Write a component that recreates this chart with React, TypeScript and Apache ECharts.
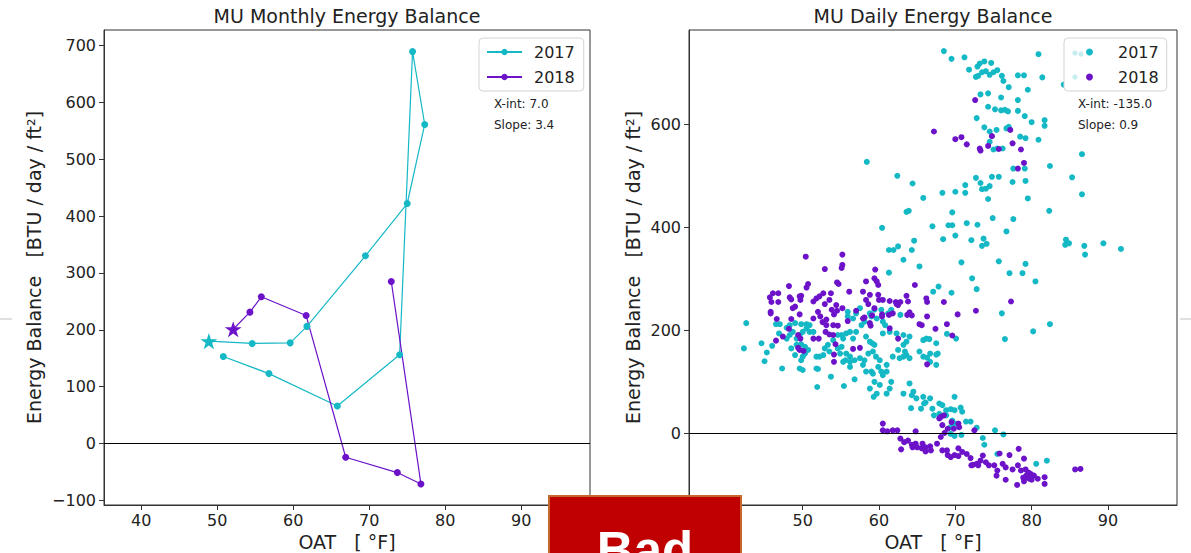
import { useEffect, useRef } from 'react';
import * as echarts from 'echarts';

const CYAN = '#15b8c5';
const PURPLE = '#6c13c9';
const FONT = '"DejaVu Sans", sans-serif';

const xTicks = [40, 50, 60, 70, 80, 90];
const monthlyYTicks = [-100, 0, 100, 200, 300, 400, 500, 600, 700];
const dailyYTicks = [0, 200, 400, 600];

const monthlyOAT2017 = [48.9, 54.6, 59.6, 61.8, 69.5, 75.0, 77.3, 75.7, 74.0, 65.8, 56.8, 50.8];
const monthlyBal2017 = [180, 176, 177, 206, 330, 422, 561, 689, 156, 66, 123, 153];
const monthlyOAT2018 = [52.1, 54.3, 55.8, 61.7, 66.9, 73.7, 76.8, 72.9];
const monthlyBal2018 = [201, 231, 258, 225, -24, -51, -71, 285];

const daily2017 = [
  [68.5, 742], [69.5, 727], [71.2, 730], [80.9, 736], [71.8, 706], [72.9, 712], [73.2, 718], [73.8, 722], [74.7, 719],
  [72.7, 692], [73.0, 694], [73.5, 701], [74.0, 703], [74.5, 696], [75.0, 701], [75.5, 705], [76.1, 694], [76.3, 684],
  [77.0, 672], [78.2, 695], [79.0, 695], [79.5, 667], [81.4, 691], [84.2, 677], [73.3, 658], [74.3, 660], [76.0, 652],
  [78.2, 647], [74.3, 634], [75.2, 629], [76.0, 627], [76.5, 628], [76.9, 625], [78.2, 626], [79.1, 616], [80.0, 604],
  [81.7, 608], [81.7, 597], [72.8, 612], [73.8, 594], [74.5, 586], [75.4, 589], [76.7, 592], [77.0, 595], [78.5, 576],
  [79.2, 573], [80.9, 570], [74.5, 566], [75.0, 551], [75.5, 553], [76.2, 553], [77.6, 514], [79.1, 514], [82.4, 519],
  [86.6, 542], [85.3, 497], [86.6, 464], [58.4, 527], [62.4, 500], [64.4, 485], [65.8, 457], [68.3, 467], [70.0, 469],
  [71.3, 467], [71.3, 482], [72.7, 496], [73.3, 486], [73.5, 474], [74.0, 475], [74.5, 480], [74.8, 498], [75.7, 498],
  [74.3, 455], [77.5, 488], [79.2, 490], [79.5, 456], [82.3, 432], [69.6, 429], [74.9, 418], [77.6, 416], [63.9, 432],
  [63.6, 430], [71.5, 408],
  [69.1, 404], [69.6, 404], [72.9, 405], [76.7, 392], [68.4, 377], [70.0, 384], [72.1, 375], [73.7, 378], [73.5, 364],
  [74.1, 368], [84.5, 376], [84.4, 366], [84.9, 369], [86.9, 364], [87.0, 347], [89.4, 369], [91.7, 358], [70.8, 332],
  [75.7, 334], [79.2, 329], [77.1, 311], [78.8, 311], [72.2, 301], [80.5, 295], [67.8, 285], [72.8, 280], [69.5, 273],
  [76.1, 233], [82.4, 212], [80.2, 198], [68.9, 193], [70.1, 184], [76.5, 183], [67.7, 155],
  [60.4, 399], [67.0, 402], [64.6, 374], [61.3, 356], [61.9, 356], [62.5, 363], [64.3, 356], [63.2, 337], [65.3, 324],
  [61.3, 312], [67.1, 275], [42.6, 214], [44.6, 175], [42.3, 165], [45.3, 157], [45.0, 140], [47.3, 126], [46.0, 170],
  [46.5, 212], [47.0, 212], [47.9, 205], [48.3, 210], [49.0, 214], [49.8, 212], [50.5, 212], [50.9, 210], [46.9, 194],
  [47.9, 184], [48.3, 191], [48.7, 197], [49.2, 184], [49.6, 191], [50.0, 197], [50.5, 204], [50.9, 197], [51.4, 197],
  [48.5, 165], [49.2, 172], [49.8, 173], [50.3, 168], [50.7, 162], [50.3, 155], [50.0, 149], [49.8, 142], [49.6, 126],
  [49.0, 152], [50.0, 123], [51.8, 126], [52.0, 125], [51.8, 149], [52.2, 149], [52.7, 152], [52.9, 165], [53.5, 159],
  [53.3, 172], [54.0, 181], [54.6, 191], [55.1, 191], [55.3, 184], [55.7, 194], [56.2, 197], [55.9, 236], [55.9, 227],
  [56.6, 184], [57.0, 197], [57.7, 210], [58.1, 217], [58.3, 188], [58.8, 178], [59.1, 175], [59.4, 172], [59.2, 159],
  [58.6, 155], [58.1, 142], [57.5, 146], [56.8, 142], [56.2, 149], [55.7, 155], [54.9, 155], [54.6, 165], [55.1, 168],
  [55.3, 139], [55.6, 142], [56.2, 139], [56.2, 129], [57.9, 133], [58.3, 120], [59.0, 120], [59.2, 116], [59.4, 100],
  [58.8, 87], [59.9, 129], [60.3, 120], [60.5, 113], [61.0, 120], [61.6, 100], [61.0, 133], [60.1, 142], [59.6, 149],
  [61.8, 149], [62.7, 146], [63.2, 149], [63.6, 152], [64.0, 146], [63.4, 159], [62.5, 162], [63.2, 172], [63.6, 178],
  [64.0, 188], [63.2, 191], [62.3, 194], [61.4, 197], [60.5, 194], [60.8, 210], [60.5, 217], [59.7, 223], [59.0, 227],
  [61.2, 233], [62.8, 230], [61.6, 240], [60.3, 240], [59.4, 240], [58.8, 233], [57.5, 243], [57.0, 233], [56.6, 223],
  [65.8, 181], [66.2, 184], [66.7, 155], [66.6, 183], [67.5, 153], [66.3, 147], [67.5, 175], [64.0, 97], [64.5, 81],
  [63.2, 77], [64.3, 74], [64.9, 68], [65.8, 71], [66.7, 68], [51.9, 90], [55.4, 92], [53.7, 110], [56.8, 105],
  [59.7, 77], [60.1, 94], [61.0, 77], [61.4, 87], [65.8, 149], [67.5, 133], [66.7, 139], [65.3, 159],
  [59.3, 71], [66.1, 60], [67.9, 58], [68.3, 55], [69.9, 71], [64.2, 49], [65.5, 48], [65.9, 58], [67.0, 48],
  [67.2, 35], [67.9, 38], [68.8, 45], [69.4, 47], [69.9, 45], [70.7, 50], [70.9, 42], [68.8, 35], [69.6, 25],
  [69.9, 19], [71.4, 23], [72.0, 23], [72.8, 11], [69.4, -1], [69.9, -5], [70.8, -3], [73.6, -9], [73.8, -22],
  [75.2, 6], [76.3, -2], [75.5, -40], [80.6, -59], [82.0, -53], [69.4, 12],
];

const daily2018 = [
  [72.6, 647], [67.2, 586], [70.0, 571], [70.8, 575], [71.5, 561], [73.2, 553], [73.3, 549], [74.3, 558], [74.8, 577],
  [75.7, 552], [77.2, 589], [77.5, 563], [78.6, 551], [78.2, 514], [79.0, 525],
  [68.5, 255], [77.3, 256], [70.3, 231], [72.7, 238], [68.9, 212], [69.6, 190],
  [50.4, 343], [55.2, 347], [55.2, 327], [55.1, 321], [52.9, 319], [48.2, 286], [50.7, 290], [50.5, 283], [54.5, 293],
  [54.7, 290], [56.1, 275], [57.9, 275], [58.3, 295], [59.5, 318], [59.4, 301], [59.7, 295], [59.9, 288], [58.8, 269],
  [59.9, 269], [60.0, 259], [60.5, 259], [61.4, 257], [62.2, 255], [62.5, 249], [62.8, 255], [63.6, 267], [63.8, 256],
  [64.7, 288], [66.2, 262], [66.3, 255], [64.0, 235], [64.3, 229], [63.7, 230], [61.8, 233], [60.4, 231], [59.4, 243],
  [58.6, 251], [58.1, 225], [59.1, 229], [55.9, 218], [55.2, 243], [54.5, 238], [54.1, 231], [53.5, 259], [53.7, 272],
  [52.9, 251], [52.7, 272], [52.2, 266], [51.8, 262], [51.4, 256], [52.0, 236], [51.4, 223], [52.3, 227], [52.6, 216],
  [53.1, 210], [54.0, 210], [54.6, 209], [54.4, 249], [53.8, 240], [48.3, 264], [48.5, 260], [49.6, 266], [49.7, 259],
  [49.8, 267], [48.7, 243], [49.0, 246], [49.6, 231], [46.8, 272], [46.1, 272], [45.7, 264], [45.9, 255], [46.8, 255],
  [45.8, 236], [45.8, 233], [48.2, 203], [47.4, 188], [46.5, 180], [49.4, 191], [49.7, 184], [49.4, 166], [49.6, 162],
  [50.1, 160], [51.4, 184], [52.1, 184], [53.0, 197], [53.5, 192], [54.0, 191], [54.3, 173], [54.1, 153], [54.1, 139],
  [57.5, 166], [56.6, 164], [57.9, 223], [61.4, 204], [62.5, 184], [65.3, 212], [65.6, 210], [67.4, 203], [66.3, 134],
  [66.3, 227], [62.3, 251], [61.3, 230], [60.4, 227], [58.3, 259], [58.8, 214], [58.9, 209], [57.0, 238], [53.1, 221],
  [48.5, 222], [46.6, 222],
  [60.5, 19], [60.5, 6], [61.1, 4], [61.8, 6], [62.4, 6], [64.8, 4], [67.9, 29], [68.1, 32], [68.5, 35], [69.5, 22],
  [70.4, 19], [68.3, 16], [69.0, 9], [68.1, -7], [68.6, 1], [62.8, -10], [63.3, -17], [63.8, -14], [64.3, -22],
  [64.8, -20], [65.0, -27], [65.6, -29], [66.1, -27], [66.7, -25], [67.6, -20], [62.9, -31], [68.3, -33], [69.0, -42],
  [69.4, -46], [69.9, -42], [70.4, -29], [70.9, -36], [71.5, -40], [72.0, -48], [72.3, -61], [72.8, -59], [73.3, -53],
  [73.6, -43], [74.0, -56], [74.4, -62], [75.4, -82], [76.2, -59], [76.6, -66], [77.1, -42], [77.5, -70], [78.2, -62],
  [78.3, -30], [78.6, -72], [79.0, -49], [79.3, -82], [79.7, -88], [79.9, -79], [80.3, -82], [79.0, -93], [78.1, -100],
  [81.7, -85], [81.7, -98], [85.7, -70], [86.4, -69], [76.6, -90], [75.5, -72], [75.1, -62], [73.0, -62], [72.1, -62],
  [70.4, -44], [68.9, -33], [66.8, -33], [66.1, -35], [64.4, -27], [65.7, -20], [79.4, -85], [80.0, -90], [79.6, -76],
  [78.9, -86], [80.8, -88], [79.2, -70], [72.5, 6], [70.5, 12], [69.8, 9], [75.8, -39],
];

const STAR = 'path://M50 0 L61.2 34.5 L97.6 34.5 L68.2 55.9 L79.4 90.5 L50 69.1 L20.6 90.5 L31.8 55.9 L2.4 34.5 L38.8 34.5 Z';

const fmt = (v: number) => (v < 0 ? '\u2212' + Math.abs(v) : String(v));

function makeX(gridIndex: number) {
  return {
    type: 'value',
    gridIndex,
    min: 35.1,
    max: 99.05,
    axisLine: { show: true, onZero: false, lineStyle: { color: '#333', width: 1 } },
    axisTick: { show: true, length: 5, customValues: xTicks, lineStyle: { color: '#333' } },
    axisLabel: { customValues: xTicks, fontSize: 16, color: '#222', fontFamily: FONT, margin: 7, formatter: fmt },
    splitLine: { show: false },
    name: 'OAT   [ \u00b0F]',
    nameLocation: 'middle',
    nameGap: 25,
    nameTextStyle: { fontSize: 19, color: '#222', fontFamily: FONT },
  };
}

function makeY(gridIndex: number, min: number, max: number, ticks: number[], gap: number) {
  return {
    type: 'value',
    gridIndex,
    min,
    max,
    axisLine: { show: true, onZero: false, lineStyle: { color: '#333', width: 1 } },
    axisTick: { show: true, length: 5, customValues: ticks, lineStyle: { color: '#333' } },
    axisLabel: { customValues: ticks, fontSize: 16, color: '#222', fontFamily: FONT, margin: 8, formatter: fmt },
    splitLine: { show: false },
    name: 'Energy Balance   [BTU / day / ft\u00b2]',
    nameLocation: 'middle',
    nameGap: gap,
    nameTextStyle: { fontSize: 19, color: '#222', fontFamily: FONT },
  };
}

const zeroLine = {
  silent: true,
  symbol: ['none', 'none'],
  label: { show: false },
  lineStyle: { color: '#000', width: 1.2, type: 'solid' },
  data: [{ yAxis: 0 }],
};

export default function App() {
  const ref = useRef<HTMLDivElement>(null);

  useEffect(() => {
    if (!ref.current) return;
    const chart = echarts.init(ref.current, undefined, { renderer: 'svg' });

    const line2017 = monthlyOAT2017.map((x, i) =>
      i === 0
        ? { value: [x, monthlyBal2017[i]], symbol: STAR, symbolSize: 17, symbolKeepAspect: true }
        : [x, monthlyBal2017[i]]
    );
    const line2018 = monthlyOAT2018.map((x, i) =>
      i === 0
        ? { value: [x, monthlyBal2018[i]], symbol: STAR, symbolSize: 17, symbolKeepAspect: true }
        : [x, monthlyBal2018[i]]
    );

    const textStyle = { fill: '#222', font: '12px "DejaVu Sans"', textVerticalAlign: 'middle' };

    chart.setOption({
      animation: false,
      backgroundColor: '#fff',
      title: [
        {
          text: 'MU Monthly Energy Balance', left: 347, top: 6, textAlign: 'center', padding: 0,
          textStyle: { fontSize: 19, fontWeight: 'normal', color: '#222', fontFamily: FONT },
        },
        {
          text: 'MU Daily Energy Balance', left: 933, top: 6, textAlign: 'center', padding: 0,
          textStyle: { fontSize: 19, fontWeight: 'normal', color: '#222', fontFamily: FONT },
        },
      ],
      grid: [
        {
          left: 104, top: 30, width: 486, height: 475, show: true, borderColor: '#333', borderWidth: 1,
          containLabel: false, outerBoundsMode: 'none',
        },
        {
          left: 689, top: 30, width: 488, height: 475, show: true, borderColor: '#333', borderWidth: 1,
          containLabel: false, outerBoundsMode: 'none',
        },
      ],
      xAxis: [makeX(0), makeX(1)],
      yAxis: [makeY(0, -108, 727, monthlyYTicks, 61), makeY(1, -139, 783, dailyYTicks, 47)],
      legend: [
        {
          data: ['2017', '2018'],
          orient: 'vertical', left: 479, top: 38, padding: [4, 9, 4, 7],
          itemWidth: 35, itemHeight: 8, itemGap: 5,
          borderColor: '#d4d4d4', borderWidth: 1, borderRadius: 4, backgroundColor: '#fff',
          selectedMode: false,
          textStyle: { fontSize: 16, color: '#222', fontFamily: FONT, lineHeight: 20, padding: [0, 0, 0, 7] },
        },
        {
          data: ['2017 ', '2018 '],
          orient: 'vertical', left: 1064, top: 38, padding: [4, 8, 4, 22],
          icon: 'circle', itemWidth: 7, itemHeight: 7, itemGap: 5,
          borderColor: '#d4d4d4', borderWidth: 1, borderRadius: 4, backgroundColor: '#fff',
          selectedMode: false,
          formatter: (n: string) => n.trim(),
          textStyle: { fontSize: 16, color: '#222', fontFamily: FONT, lineHeight: 20, padding: [0, 0, 0, 20] },
        },
      ],
      series: [
        {
          type: 'line', name: '2017', xAxisIndex: 0, yAxisIndex: 0, data: line2017,
          symbol: 'circle', symbolSize: 7, showAllSymbol: true,
          lineStyle: { color: CYAN, width: 1.2 }, itemStyle: { color: CYAN },
          markLine: zeroLine,
        },
        {
          type: 'line', name: '2018', xAxisIndex: 0, yAxisIndex: 0, data: line2018,
          symbol: 'circle', symbolSize: 7, showAllSymbol: true,
          lineStyle: { color: PURPLE, width: 1.2 }, itemStyle: { color: PURPLE },
        },
        {
          type: 'scatter', name: '2017 ', xAxisIndex: 1, yAxisIndex: 1, data: daily2017,
          symbolSize: 6, itemStyle: { color: CYAN, opacity: 1 },
          markLine: zeroLine,
        },
        {
          type: 'scatter', name: '2018 ', xAxisIndex: 1, yAxisIndex: 1, data: daily2018,
          symbolSize: 6, itemStyle: { color: PURPLE, opacity: 1 },
        },
      ],
      graphic: [
        { type: 'text', x: 494, y: 104, z: 10, style: { ...textStyle, text: 'X-int: 7.0' } },
        { type: 'text', x: 494, y: 125, z: 10, style: { ...textStyle, text: 'Slope: 3.4' } },
        { type: 'text', x: 1078, y: 104, z: 10, style: { ...textStyle, text: 'X-int: -135.0' } },
        { type: 'text', x: 1078, y: 125, z: 10, style: { ...textStyle, text: 'Slope: 0.9' } },
        { type: 'circle', z: 20, shape: { cx: 1075, cy: 53, r: 2.6 }, style: { fill: '#c6eef1' } },
        { type: 'circle', z: 20, shape: { cx: 1081, cy: 54, r: 2.6 }, style: { fill: '#c6eef1' } },
        { type: 'circle', z: 20, shape: { cx: 1075, cy: 77, r: 2.6 }, style: { fill: '#c6eef1' } },
        { type: 'line', z: 10, shape: { x1: 0, y1: 319, x2: 12, y2: 319 }, style: { stroke: '#d6d6d6', lineWidth: 1.5 } },
        { type: 'line', z: 10, shape: { x1: 1180, y1: 319, x2: 1191, y2: 319 }, style: { stroke: '#d6d6d6', lineWidth: 1.5 } },
        {
          type: 'rect', z: 100, shape: { x: 549, y: 496, width: 192, height: 80 },
          style: { fill: '#c00000', stroke: '#c4682e', lineWidth: 2 },
        },
        {
          type: 'text', z: 101, x: 645, y: 550,
          style: { text: 'Bad', fill: '#fff', font: 'bold 51px "Liberation Sans"', textAlign: 'center', textVerticalAlign: 'middle' },
        },
      ],
    });

    return () => chart.dispose();
  }, []);

  return <div ref={ref} style={{ position: 'absolute', left: 0, top: 0, width: 1191, height: 553 }} />;
}
